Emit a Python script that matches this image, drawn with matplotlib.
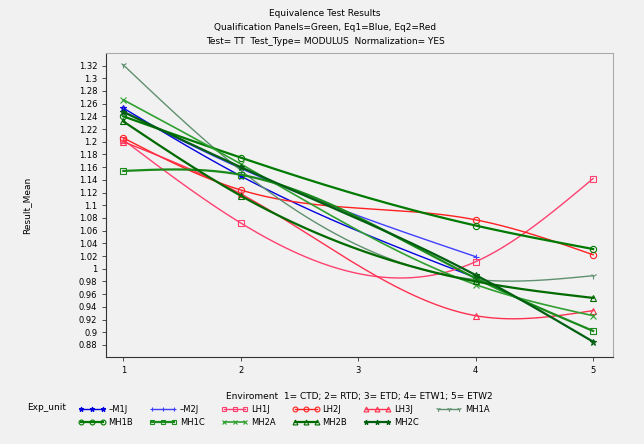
import numpy as np
import matplotlib.pyplot as plt
from matplotlib.lines import Line2D

# Environment levels with data (no runs at 3)
env = [1, 2, 4, 5]

m1j = [1.253, 1.146, 0.986, np.nan]
m2j = [1.248, 1.158, 1.019, np.nan]
lh1j = [1.203, 1.072, 1.011, 1.142]
lh2j = [1.206, 1.124, 1.077, 1.022]
lh3j = [1.200, 1.118, 0.926, 0.934]
mh1a = [1.321, 1.155, 0.983, 0.989]
mh1b = [1.240, 1.175, 1.068, 1.031]
mh1c = [1.154, 1.148, 0.985, 0.902]
mh2a = [1.266, 1.165, 0.975, 0.926]
mh2b = [1.232, 1.115, 0.980, 0.954]
mh2c = [1.247, 1.160, 0.990, 0.885]

yticks = [0.88, 0.9, 0.92, 0.94, 0.96, 0.98, 1, 1.02, 1.04, 1.06, 1.08, 1.1,
          1.12, 1.14, 1.16, 1.18, 1.2, 1.22, 1.24, 1.26, 1.28, 1.3, 1.32]


def spline(x, y, n=200):
    # natural cubic spline, only used to draw the smooth line (SAS interpol=spline)
    x = np.asarray(x, float)
    y = np.asarray(y, float)
    ok = ~np.isnan(y)
    x, y = x[ok], y[ok]
    k = len(x)
    h = np.diff(x)
    A = np.zeros((k, k))
    b = np.zeros(k)
    A[0, 0] = A[-1, -1] = 1
    for i in range(1, k - 1):
        A[i, i - 1] = h[i - 1]
        A[i, i] = 2 * (h[i - 1] + h[i])
        A[i, i + 1] = h[i]
        b[i] = 6 * ((y[i + 1] - y[i]) / h[i] - (y[i] - y[i - 1]) / h[i - 1])
    M = np.linalg.solve(A, b)
    xs = np.linspace(x[0], x[-1], n)
    idx = np.clip(np.searchsorted(x, xs) - 1, 0, k - 2)
    x0, x1 = x[idx], x[idx + 1]
    hh = x1 - x0
    ys = (M[idx] * (x1 - xs) ** 3 / (6 * hh) + M[idx + 1] * (xs - x0) ** 3 / (6 * hh)
          + (y[idx] / hh - M[idx] * hh / 6) * (x1 - xs)
          + (y[idx + 1] / hh - M[idx + 1] * hh / 6) * (xs - x0))
    return xs, ys


series = [
    ('–M1J', m1j, '#0000e0', '*', 1.0),
    ('–M2J', m2j, '#4040ff', '+', 1.0),
    ('LH1J', lh1j, '#ff4070', 's', 1.0),
    ('LH2J', lh2j, '#ff2020', 'o', 1.0),
    ('LH3J', lh3j, '#ff3050', '^', 1.0),
    ('MH1A', mh1a, '#5f9070', '1', 1.0),
    ('MH1B', mh1b, '#007a00', 'o', 1.6),
    ('MH1C', mh1c, '#1a8a1a', 's', 1.6),
    ('MH2A', mh2a, '#30a030', 'x', 1.2),
    ('MH2B', mh2b, '#006a00', '^', 1.6),
    ('MH2C', mh2c, '#005f10', '*', 1.6),
]

bg = '#f1f1f1'
fig = plt.figure(figsize=(6.44, 4.44), dpi=100, facecolor=bg)
ax = fig.add_axes([0.165, 0.196, 0.787, 0.685], facecolor=bg)

handles = []
for name, vals, col, mk, lw in series:
    xs, ys = spline(env, vals)
    ax.plot(xs, ys, color=col, lw=lw)
    ax.plot(env, vals, linestyle='none', marker=mk, color=col, ms=4.5,
            mfc='none', mew=0.8)
    handles.append(Line2D([0], [0], color=col, lw=lw, marker=mk, ms=3.5,
                          mfc='none', mew=0.8))

ax.set_xlim(0.855, 5.17)
ax.set_ylim(0.861, 1.340)
ax.set_xticks([1, 2, 3, 4, 5])
ax.set_yticks(yticks)
ax.set_yticklabels(['%g' % v for v in yticks])
ax.tick_params(labelsize=6, length=3, width=0.6, color='#333333')
for s in ['top', 'right']:
    ax.spines[s].set_color('#aaaaaa')
for s in ['left', 'bottom']:
    ax.spines[s].set_color('#333333')
ax.set_ylabel('Result_Mean', fontsize=6.5)
ax.yaxis.set_label_coords(-0.148, 0.5)
ax.set_xlabel('Enviroment  1= CTD; 2= RTD; 3= ETD; 4= ETW1; 5= ETW2', fontsize=6.5,
              labelpad=12)

fig.text(0.505, 0.965, 'Equivalence Test Results', ha='center', fontsize=6.5)
fig.text(0.505, 0.933, 'Qualification Panels=Green, Eq1=Blue, Eq2=Red', ha='center',
         fontsize=6.5)
fig.text(0.505, 0.901, 'Test= TT  Test_Type= MODULUS  Normalization= YES', ha='center',
         fontsize=6.5)

# legend, filled row by row
order = [0, 6, 1, 7, 2, 8, 3, 9, 4, 10, 5]
fig.legend([handles[i] for i in order], [series[i][0] for i in order],
           loc='lower left', bbox_to_anchor=(0.11, 0.022), ncol=6, frameon=False,
           fontsize=6, numpoints=3, handlelength=3.2, handletextpad=0.4,
           columnspacing=2.0, labelspacing=0.45)
fig.text(0.042, 0.077, 'Exp_unit', fontsize=6.5)

fig.savefig('out.png', dpi=100, facecolor=bg)
